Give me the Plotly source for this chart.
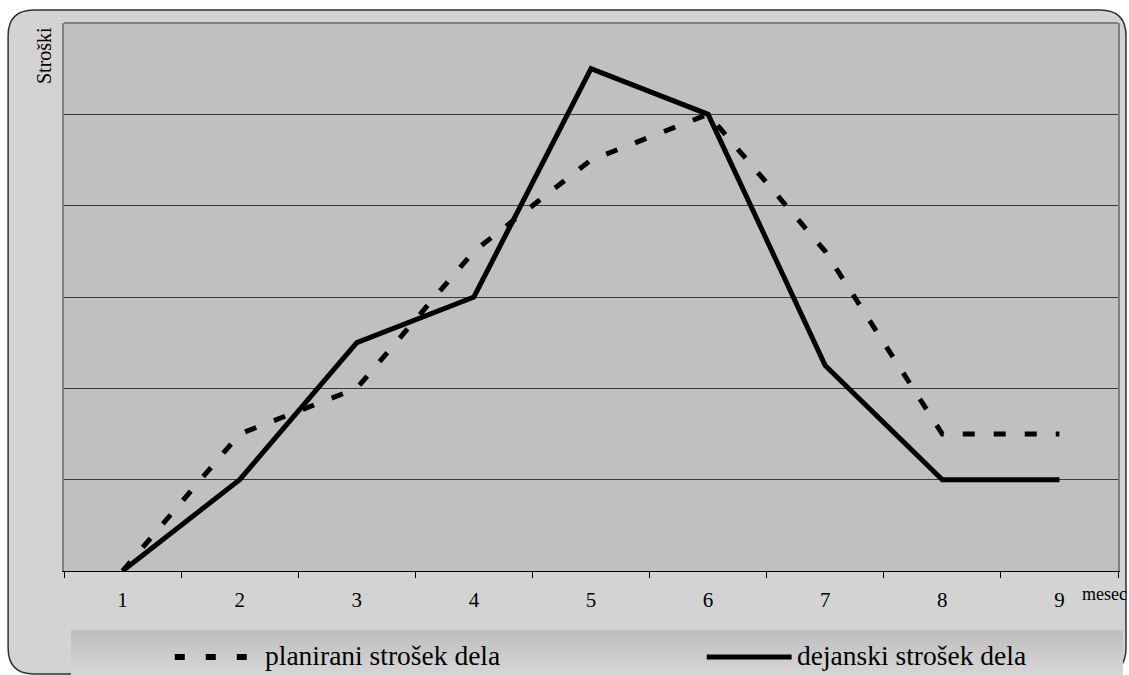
import plotly.graph_objects as go

# ---- data ----
months = ["1", "2", "3", "4", "5", "6", "7", "8", "9"]
planned = [0, 1.5, 2, 3.5, 4.5, 5, 3.5, 1.5, 1.5]
actual = [0, 1, 2.5, 3, 5.5, 5, 2.25, 1, 1]
planned_name = "planirani strošek dela"
actual_name = "dejanski strošek dela"
y_title = "Stroški"
x_title = "mesec"

W, H = 1129, 675
ML, MR, MT, MB = 64, 9, 23, 104
PW, PH = W - ML - MR, H - MT - MB
FONT = "Liberation Serif"


def px(x):
    return (x - ML) / PW


def py(y):
    return (H - MB - y) / PH


fig = go.Figure()
fig.add_trace(go.Scatter(x=months, y=planned, mode="lines", name=planned_name,
                         line=dict(color="black", width=5, dash="12px,19px")))
fig.add_trace(go.Scatter(x=months, y=actual, mode="lines", name=actual_name,
                         line=dict(color="black", width=5)))

shapes = []
# outer rounded panel
x0, y0, x1, y1, r = px(8), py(10), px(1128), py(674), 26
rx, ry = r / PW, r / PH
path = (f"M {x0+rx},{y0} L {x1-rx},{y0} Q {x1},{y0} {x1},{y0-ry} "
        f"L {x1},{y1+ry} Q {x1},{y1} {x1-rx},{y1} L {x0+rx},{y1} "
        f"Q {x0},{y1} {x0},{y1+ry} L {x0},{y0-ry} Q {x0},{y0} {x0+rx},{y0} Z")
shapes.append(dict(type="path", path=path, xref="paper", yref="paper",
                   fillcolor="#d3d3d3", line=dict(color="#303030", width=1.5),
                   layer="below"))
# plot area fill
shapes.append(dict(type="rect", xref="paper", yref="paper", x0=0, x1=1, y0=0, y1=1,
                   fillcolor="#c0c0c0", line=dict(width=0), layer="below"))
# legend box gradient (strips)
n = 15
top, bot = 630, 675
for i in range(n):
    ya = top + (bot - top) * i / n
    yb = top + (bot - top) * (i + 1) / n
    c = int(0xbf + (0xd6 - 0xbf) * i / (n - 1))
    col = f"rgb({c},{c},{c})"
    shapes.append(dict(type="rect", xref="paper", yref="paper",
                       x0=px(71), x1=px(1125), y0=py(ya), y1=py(yb),
                       fillcolor=col, line=dict(width=0), layer="below"))
# top border of plot area
shapes.append(dict(type="line", xref="paper", yref="paper", x0=0, x1=1, y0=1, y1=1,
                   line=dict(color="#808080", width=2)))
# legend samples
shapes.append(dict(type="line", xref="paper", yref="paper",
                   x0=px(175), x1=px(252), y0=py(657), y1=py(657),
                   line=dict(color="black", width=6, dash="10px,21px")))
shapes.append(dict(type="line", xref="paper", yref="paper",
                   x0=px(708), x1=px(793), y0=py(657), y1=py(657),
                   line=dict(color="black", width=5)))

annotations = [
    dict(text=y_title, xref="paper", yref="paper", x=px(44), y=py(56),
         xanchor="center", yanchor="middle",
         textangle=-90, showarrow=False, font=dict(size=20, color="black", family=FONT)),
    dict(text=x_title, xref="paper", yref="paper", x=px(1082), y=py(594),
         xanchor="left", yanchor="middle", showarrow=False,
         font=dict(size=18, color="black", family=FONT)),
    dict(text=planned_name, xref="paper", yref="paper", x=px(263), y=py(655),
         xanchor="left", yanchor="middle", showarrow=False,
         font=dict(size=27.5, color="black", family=FONT)),
    dict(text=actual_name, xref="paper", yref="paper", x=px(796), y=py(655),
         xanchor="left", yanchor="middle", showarrow=False,
         font=dict(size=27.5, color="black", family=FONT)),
]

fig.update_layout(
    width=W, height=H,
    margin=dict(l=ML, r=MR, t=MT, b=MB, pad=0),
    paper_bgcolor="white",
    plot_bgcolor="#c0c0c0",
    showlegend=False,
    shapes=shapes,
    annotations=annotations,
    font=dict(family=FONT, color="black"),
    xaxis=dict(type="category", range=[-0.5, 8.5], tickson="boundaries",
               ticks="outside", ticklen=6, tickcolor="black", tickwidth=1,
               showline=True, linecolor="black", linewidth=1,
               showgrid=False, zeroline=False,
               tickfont=dict(size=21, family=FONT, color="black"),
               ticklabelstandoff=10),
    yaxis=dict(range=[0, 6], dtick=1, showticklabels=False, ticks="",
               showgrid=True, gridcolor="#3a3a3a", gridwidth=1,
               zeroline=False, showline=True, linecolor="#808080", linewidth=2,
               mirror=True),
)

fig.write_html("out.html")
